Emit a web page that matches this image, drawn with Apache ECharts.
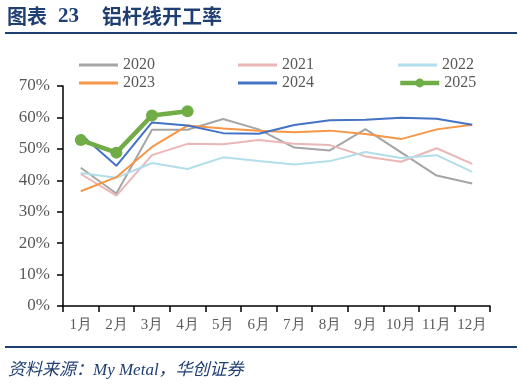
<!DOCTYPE html>
<html>
<head>
<meta charset="utf-8">
<script src="https://cdn.jsdelivr.net/npm/echarts@6/dist/echarts.min.js"></script>
<style>html,body{margin:0;padding:0;background:#fff;}#c{width:524px;height:388px;}</style>
</head>
<body>
<div id="c"></div>
<script>
var months = ['1月','2月','3月','4月','5月','6月','7月','8月','9月','10月','11月','12月'];
var s2020 = [44.0, 35.8, 56.1, 56.1, 59.5, 56.2, 50.4, 49.5, 56.3, 48.9, 41.5, 39.0];
var s2021 = [42.0, 35.1, 48.0, 51.6, 51.5, 52.8, 51.6, 51.2, 47.6, 45.9, 50.2, 45.2];
var s2022 = [42.3, 40.8, 45.5, 43.6, 47.3, 46.1, 45.0, 46.1, 49.0, 47.1, 48.0, 42.7];
var s2023 = [36.5, 41.0, 50.6, 57.4, 56.5, 55.8, 55.3, 55.8, 54.7, 53.1, 56.2, 57.7];
var s2024 = [54.6, 44.6, 58.4, 57.4, 55.0, 54.8, 57.6, 59.1, 59.3, 59.9, 59.6, 57.7];
var s2025 = [52.8, 48.8, 60.6, 62.0];
var yTicks = ['0%','10%','20%','30%','40%','50%','60%','70%'];

var chart = echarts.init(document.getElementById('c'), null, {renderer:'canvas'});
var serif = '"Liberation Serif","DejaVu Serif",serif';
var names = ['2020','2021','2022','2023','2024','2025'];
var colors = ['#A5A5A5','#EBB6B6','#B1DEEA','#F79646','#4472C4','#70AD47'];
var datas = [s2020,s2021,s2022,s2023,s2024,s2025];
var legendPos = [[74,52],[233,52],[393,52],[74,70],[233,70],[393,70]];
var legends = names.map(function(n,i){
  var isG = n==='2025';
  var l = {data:[n], left:legendPos[i][0], top:legendPos[i][1], itemWidth:39, itemHeight: isG ? 11 : 3, itemGap:4,
    textStyle:{fontFamily:serif, fontSize:16, color:'#595959'}, selectedMode:false};
  if (!isG) { l.icon = 'rect'; l.itemStyle = {color: colors[i]}; }
  else { l.lineStyle = {width: 4.5, color: colors[i]}; }
  return l;
});
var series = names.map(function(n,i){
  var isG = n==='2025';
  return {name:n, type:'line', data:datas[i], color:colors[i],
    symbol: isG ? 'circle' : 'none', symbolSize: isG ? 12 : 0, showSymbol: isG,
    lineStyle:{width: isG ? 4.5 : 2, color:colors[i]}, itemStyle:{color:colors[i]},
    z: isG ? 10 : (n==='2024'? 6 : 3), animation:false};
});
chart.setOption({
  animation:false,
  grid:{left:63, right:34, top:86, bottom:82},
  legend: legends,
  graphic:[
    {type:'text', left:7, top:6, style:{text:'图表', font:'bold 20px "Noto Sans CJK SC",sans-serif', fill:'#1F3F73'}},
    {type:'text', left:58, top:6, style:{text:'23', font:'bold 21px "Liberation Serif",serif', fill:'#1F3F73'}},
    {type:'text', left:102, top:6, style:{text:'铝杆线开工率', font:'bold 20px "Noto Sans CJK SC",sans-serif', fill:'#1F3F73'}},
    {type:'rect', shape:{x:5, y:32, width:512, height:2}, style:{fill:'#1F3F73'}},
    {type:'rect', shape:{x:5, y:346, width:512, height:2}, style:{fill:'#1F3F73'}},
    {type:'text', left:8, top:362, style:{text:'资料来源：My Metal，华创证券', font:'italic 17px "Liberation Serif","Noto Sans CJK SC",serif', fill:'#1F3F73'}}
  ],
  xAxis:{type:'category', data:months, boundaryGap:true,
    axisLine:{lineStyle:{color:'#000', width:1.5}},
    axisTick:{show:true, interval:0, length:6, lineStyle:{color:'#000', width:1.5}},
    axisLabel:{interval:0, fontFamily:serif, fontSize:15, color:'#595959', margin:12}},
  yAxis:{type:'value', min:0, max:70, interval:10,
    axisLine:{show:true, lineStyle:{color:'#000', width:1.5}},
    axisTick:{show:true, length:6, lineStyle:{color:'#000', width:1.5}},
    splitLine:{show:false},
    axisLabel:{fontFamily:serif, fontSize:17, color:'#595959', margin:13,
      formatter:function(v){return yTicks[Math.round(v/10)];}}},
  series: series
});
</script>
</body>
</html>
